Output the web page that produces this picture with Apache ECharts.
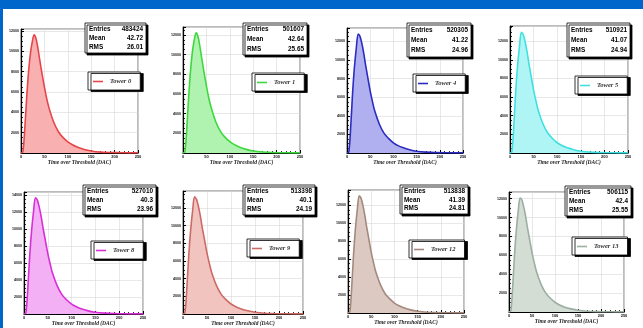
<!DOCTYPE html>
<html>
<head>
<meta charset="utf-8">
<script src="https://cdn.jsdelivr.net/npm/echarts@6/dist/echarts.min.js"></script>
<style>
  html, body { margin: 0; padding: 0; background: #fff; }
  #main { width: 643px; height: 328px; }
</style>
</head>
<body>
<div id="main"></div>
<script>
// time over threshold bins (DAC)
const dac = [0, 4, 8, 12, 16, 20, 24, 28, 32, 36, 40, 45, 50, 55, 60, 70, 80, 90, 100, 110, 120, 135, 150, 170, 190, 220, 250]

const tower0 = [0, 120, 2320, 5340, 7890, 9740, 10900, 11600, 11250, 10320, 9160, 7770, 6500, 5340, 4410, 3020, 2090, 1510, 1100, 810, 580, 350, 200, 90, 50, 20, 10]
const tower1 = [0, 120, 2440, 5610, 8300, 10250, 11470, 12200, 11830, 10860, 9640, 8170, 6830, 5610, 4640, 3170, 2200, 1590, 1160, 850, 610, 370, 210, 100, 50, 20, 10]
const tower4 = [0, 130, 2820, 6400, 9220, 11260, 12800, 12540, 11780, 10750, 9470, 8060, 6660, 5500, 4480, 3070, 2110, 1540, 1090, 790, 580, 350, 190, 90, 40, 20, 10]
const tower5 = [0, 130, 2850, 6490, 9340, 11410, 12950, 12710, 11930, 10890, 9600, 8170, 6740, 5580, 4540, 3110, 2140, 1560, 1100, 800, 580, 350, 190, 90, 45, 20, 10]
const tower8 = [0, 140, 3000, 6830, 9830, 12010, 13650, 13380, 12560, 11470, 10100, 8600, 7100, 5870, 4780, 3280, 2250, 1640, 1160, 850, 610, 370, 200, 100, 50, 20, 10]
const tower9 = [0, 130, 2920, 6630, 9540, 11660, 13250, 12990, 12190, 11130, 9800, 8350, 6890, 5700, 4640, 3180, 2190, 1590, 1130, 820, 600, 360, 200, 90, 50, 20, 10]
const tower12 = [0, 130, 2870, 6530, 9400, 11480, 13050, 12790, 12010, 10960, 9660, 8220, 6790, 5610, 4570, 3130, 2150, 1570, 1110, 810, 590, 350, 200, 90, 45, 20, 10]
const tower13 = [0, 120, 2660, 6050, 8710, 10650, 12050, 11860, 11130, 10160, 8950, 7620, 6290, 5200, 4240, 2900, 2000, 1450, 1030, 750, 540, 330, 180, 85, 40, 20, 10]

const names = ['Tower 0', 'Tower 1', 'Tower 4', 'Tower 5', 'Tower 8', 'Tower 9', 'Tower 12', 'Tower 13']
const counts = [tower0, tower1, tower4, tower5, tower8, tower9, tower12, tower13]
const entries = ['483424', '501607', '520305', '510921', '527010', '513398', '513838', '506115']
const means = ['42.72', '42.64', '41.22', '41.07', '40.3', '40.1', '41.39', '42.4']
const rms = ['26.01', '25.65', '24.96', '24.94', '23.96', '24.19', '24.81', '25.55']
const yMax = [12180, 12800, 13440, 13620, 14330, 13910, 13700, 12700]

const lineColors = ['#e6464a', '#3ed83e', '#2c2cc0', '#40e0e0', '#d630d6', '#cc6a66', '#a48a7e', '#9caea2']
const fillColors = ['#f9b0b0', '#b0f2b0', '#b0b0f0', '#b0f5f5', '#f4b0f4', '#f2c4c0', '#dccac2', '#d3ddd4']

// layout of each pad: plot frame, stats box, legend box
const frames = [
  [21, 29, 117, 124], [183, 27, 117, 126], [347, 28, 116, 125], [510, 26, 118, 127],
  [24, 192, 119, 123], [183, 191, 120, 124], [348, 190, 116, 123], [509, 192, 115, 120]
]
const statBoxes = [
  [85, 23, 61, 30], [243, 23, 64, 32], [407, 23, 64, 34], [567, 23, 63, 34],
  [83, 185, 73, 30], [243, 185, 72, 30], [400, 185, 68, 29], [565, 186, 66, 30]
]
const legendPos = [
  [88, 72], [252, 73], [413, 74], [575, 76],
  [91, 241], [247, 239], [409, 240], [572, 237]
]

const chart = echarts.init(document.getElementById('main'))

const grids = [], xAxes = [], yAxes = [], series = [], legends = []
const graphics = [
  { type: 'rect', left: 0, top: 0, shape: { width: 643, height: 9 }, style: { fill: '#0066cc' }, z: 100 },
  { type: 'rect', left: 0, top: 0, shape: { width: 3, height: 328 }, style: { fill: '#0066cc' }, z: 100 }
]

for (let i = 0; i < 8; i++) {
  const f = frames[i]
  grids.push({ left: f[0], top: f[1], width: f[2], height: f[3], show: true, borderColor: '#555', borderWidth: 0.8, backgroundColor: '#fff' })
  xAxes.push({
    type: 'value', gridIndex: i, min: 0, max: 250, interval: 50,
    name: 'Time over Threshold (DAC)', nameLocation: 'middle', nameGap: 7,
    nameTextStyle: { fontFamily: 'Liberation Serif', fontStyle: 'italic', fontWeight: 'bold', fontSize: 5.5, color: '#222' },
    axisLine: { lineStyle: { color: '#000', width: 1.2 } },
    axisTick: { inside: true, length: 3, lineStyle: { color: '#000' } },
    minorTick: { show: true, splitNumber: 5, length: 1.8, lineStyle: { color: '#000' } },
    axisLabel: { fontSize: 4, margin: 2, color: '#111', fontFamily: 'Liberation Sans', fontWeight: 'bold' },
    splitLine: { show: true, lineStyle: { color: '#d8d8d8', width: 0.6 } }
  })
  yAxes.push({
    type: 'value', gridIndex: i, min: 0, max: yMax[i], interval: 2000,
    axisLine: { show: true, lineStyle: { color: '#000', width: 1.2 } },
    axisTick: { inside: true, length: 3, lineStyle: { color: '#000' } },
    minorTick: { show: true, splitNumber: 4, length: 1.8, lineStyle: { color: '#000' } },
    axisLabel: {
      fontSize: 3.6, margin: 2, color: '#111', fontFamily: 'Liberation Sans', fontWeight: 'bold',
      formatter: v => (v % 2000 === 0 && v > 0 ? String(v) : '')
    },
    splitLine: { show: true, lineStyle: { color: '#d8d8d8', width: 0.6 } }
  })
  series.push({
    name: names[i], type: 'line', xAxisIndex: i, yAxisIndex: i,
    data: dac.map((x, k) => [x, counts[i][k]]),
    showSymbol: false, smooth: 0.3,
    lineStyle: { color: lineColors[i], width: 1.6 },
    itemStyle: { color: lineColors[i] },
    areaStyle: { color: fillColors[i], opacity: 1 }
  })
  legends.push({
    data: [names[i]], left: legendPos[i][0], top: legendPos[i][1],
    padding: [6, 9, 5, 5], itemGap: 0,
    icon: 'rect', itemWidth: 10, itemHeight: 1.6,
    backgroundColor: '#fff', borderColor: '#000', borderWidth: 0.8, borderRadius: 0,
    shadowColor: '#000', shadowOffsetX: 3, shadowOffsetY: 1.5, shadowBlur: 0.01,
    selectedMode: false,
    textStyle: { fontFamily: 'Liberation Serif', fontStyle: 'italic', fontWeight: 'bold', fontSize: 6.5, color: '#333', padding: [0, 0, 0, 2] }
  })

  // stats box
  const s = statBoxes[i]
  const rowH = (s[3] - 3) / 3
  const txt = { fontFamily: 'Liberation Sans', fontWeight: 'bold', fontSize: 6.4, fill: '#000', verticalAlign: 'middle' }
  const rows = [['Entries', entries[i]], ['Mean', means[i]], ['RMS', rms[i]]]
  const kids = [{
    type: 'rect', z: 120, shape: { x: 0, y: 0, width: s[2], height: s[3] },
    style: { fill: '#fff', stroke: '#000', lineWidth: 0.8, shadowColor: '#000', shadowOffsetX: 2, shadowOffsetY: 2, shadowBlur: 0.01 }
  }]
  rows.forEach((r, k) => {
    kids.push({ type: 'text', z: 121, x: 4, y: 1.8 + rowH * (k + 0.5), style: Object.assign({ text: r[0], align: 'left' }, txt) })
    kids.push({ type: 'text', z: 121, x: s[2] - 3, y: 1.8 + rowH * (k + 0.5), style: Object.assign({ text: r[1], align: 'right' }, txt) })
  })
  graphics.push({ type: 'group', x: s[0], y: s[1], z: 120, children: kids })
}

chart.setOption({
  animation: false,
  grid: grids,
  xAxis: xAxes,
  yAxis: yAxes,
  legend: legends,
  series: series,
  graphic: graphics
})
</script>
</body>
</html>
